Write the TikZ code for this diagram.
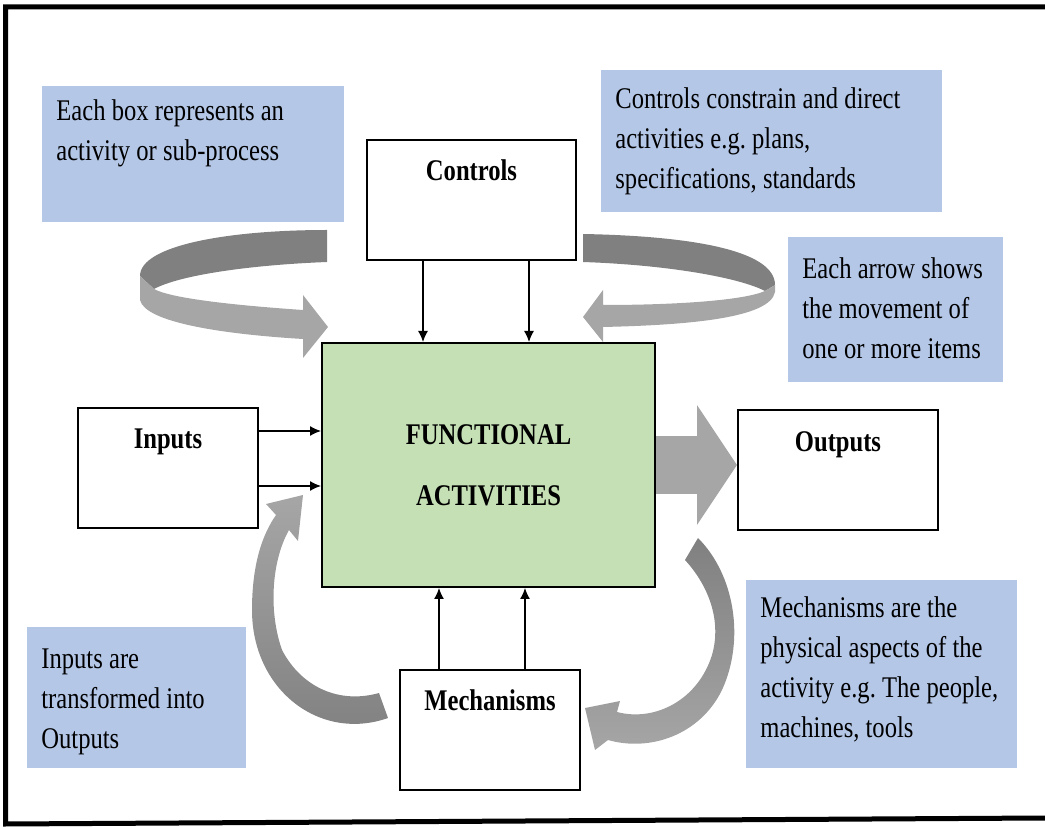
\documentclass[tikz,border=0pt]{standalone}
\usepackage{fontspec}
\setmainfont{Liberation Serif}[FakeStretch=0.82]
\usetikzlibrary{arrows.meta}
\usetikzlibrary{calc}
\hyphenpenalty=10000
\newcommand\tightspace{\spaceskip=3.1pt plus 1pt minus 0.5pt\relax\frenchspacing}
\definecolor{noteblue}{RGB}{180,199,231}
\definecolor{boxgreen}{RGB}{197,224,180}
\definecolor{ribbondark}{RGB}{128,128,128}
\definecolor{ribbonlight}{RGB}{166,166,166}
\tikzset{blk/.style = {draw, line width=1pt, fill=white, inner sep=0pt, font=\fontsize{15pt}{20pt}\selectfont\bfseries,
                       text height=20.5pt, text depth=39.5pt},
         note/.style = {fill=noteblue, anchor=north west, inner xsep=7pt, inner ysep=0pt, align=left,
                        execute at begin node=\tightspace},
         flow/.style = {line width=0.65pt, -{Latex[length=5.5pt,width=5pt]}},
         bigflow/.style = {ribbonlight, line width=29pt, -{Triangle[length=20pt,width=59pt]}}}
\begin{document}
\begin{tikzpicture}[x=0.5pt, y=-0.5pt, font=\fontsize{15pt}{20pt}\selectfont]
      \useasboundingbox (0,0) rectangle (1045,828);
      \draw [line width=2.5pt] (1045,7) -- (5.5,7) -- (5.5,824) -- (1045,818);
      \fill [ribbondark] (327,230) .. controls (230,230) and (140,245) .. (140,276) -- (154,289) .. controls (180,275) and (250,265) .. (327,262) -- cycle;
      \fill [ribbonlight] (140,276) -- (140,300) .. controls (145,322) and (220,334) .. (303,339) -- (303,358) -- (328,327) -- (303,295) -- (303,310) .. controls (230,305) and (170,298) .. (154,289) -- cycle;
      \fill [ribbondark] (583,234) .. controls (690,236) and (775,250) .. (775,285) -- (765,291) .. controls (740,278) and (670,265) .. (583,262) -- cycle;
      \fill [ribbonlight] (775,285) -- (775,292) .. controls (770,318) and (690,325) .. (603,327) -- (603,342) -- (583,317) -- (603,290) -- (603,305) .. controls (680,305) and (745,300) .. (765,291) -- cycle;
      \shade [top color=ribbonlight, bottom color=ribbondark] (388,718) .. controls (320,742) and (252,690) .. (252,610) .. controls (252,565) and (262,535) .. (276,515) -- (266,504) -- (303,495) -- (298,541) -- (289,530) .. controls (272,560) and (268,610) .. (282,650) .. controls (302,688) and (340,704) .. (379,693) -- cycle;
      \shade [top color=ribbondark, bottom color=ribbonlight] (685,560) -- (698,538) .. controls (735,575) and (745,640) .. (722,690) .. controls (700,735) and (650,752) .. (608,740) -- (595,750) -- (585,708) -- (620,701) -- (617,712) .. controls (655,722) and (698,700) .. (712,655) .. controls (722,620) and (708,585) .. (685,560) -- cycle;
      \node [draw, line width=1pt, fill=boxgreen, minimum width=166.5pt, minimum height=122pt, font=\fontsize{15pt}{20pt}\selectfont\bfseries, align=center] (main) at (488.5,465) {FUNCTIONAL\\[10.5pt]ACTIVITIES};
      \node [blk, minimum width=104.5pt] (ctrl) at (471.5,200) {Controls};
      \node [blk, minimum width=90pt] (inp) at (168,468) {Inputs};
      \node [blk, minimum width=100pt] (outp) at (838,470.5) {Outputs};
      \node [blk, minimum width=90pt] (mech) at (490,730) {Mechanisms};
      \node [note, text width=137pt, text height=17pt, text depth=51pt] (boxnote) at (42,86) {Each box represents an\\activity or sub-process};
      \node [note, text width=156.5pt, text height=19pt, text depth=52pt] (ctrlnote) at (601,70) {Controls constrain and direct\\activities e.g. plans,\\specifications, standards};
      \node [note, text width=93.5pt, text height=20.5pt, text depth=52pt] (arrownote) at (788,237) {Each arrow shows\\the movement of\\one or more items};
      \node [note, text width=95.5pt, text height=20.5pt, text depth=50pt] (inpnote) at (27,627) {Inputs are\\transformed into\\Outputs};
      \node [note, text width=121.5pt, text height=18.5pt, text depth=75.5pt] (mechnote) at (746,580) {Mechanisms are the\\physical aspects of the\\activity e.g. The people,\\machines, tools};
      \draw [bigflow] (main.east) -- (main.east -| outp.west);
      \draw [flow] ([xshift=28.5pt]ctrl.south west) -- ([xshift=28.5pt]ctrl.south west |- main.north);
      \draw [flow] ([xshift=81.5pt]ctrl.south west) -- ([xshift=81.5pt]ctrl.south west |- main.north);
      \draw [flow] ([yshift=-12pt]inp.north east) -- ([yshift=-12pt]inp.north east -| main.west);
      \draw [flow] ([yshift=-39.5pt]inp.north east) -- ([yshift=-39.5pt]inp.north east -| main.west);
      \draw [flow] ([xshift=20pt]mech.north west) -- ([xshift=20pt]mech.north west |- main.south);
      \draw [flow] ([xshift=63pt]mech.north west) -- ([xshift=63pt]mech.north west |- main.south);
\end{tikzpicture}
\end{document}
